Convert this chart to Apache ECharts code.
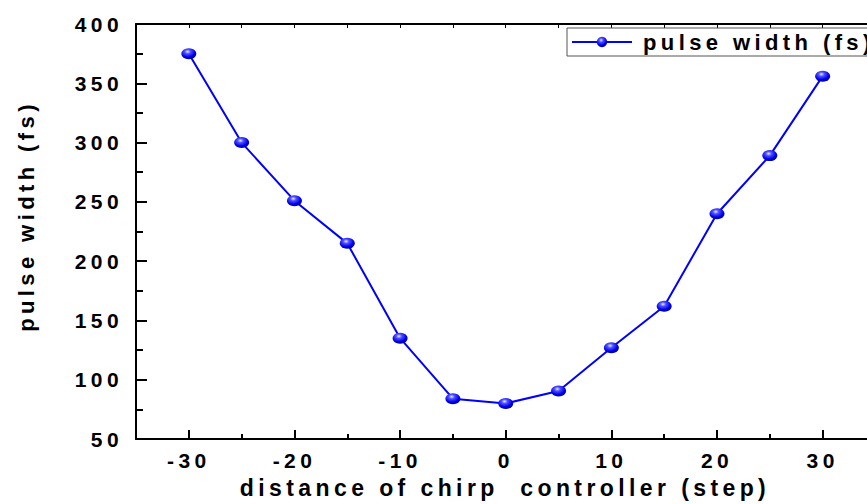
<!DOCTYPE html>
<html>
<head>
<meta charset="utf-8">
<script src="https://cdn.jsdelivr.net/npm/echarts@6/dist/echarts.min.js"></script>
<style>
  html, body { margin: 0; padding: 0; background: #fff; }
  #chart { width: 867px; height: 504px; }
  /* wide tracking on all chart text */
  #chart text { letter-spacing: 4.4px !important; }
</style>
</head>
<body>
<div id="chart"></div>
<script>
// chirp controller position (step) and measured pulse width (fs)
const steps = [-30, -25, -20, -15, -10, -5, 0, 5, 10, 15, 20, 25, 30];
const pulseWidths = [375, 300, 251, 215, 135, 84, 80, 90.5, 127, 162, 240, 289, 356];

const majorXTicks = [-30, -20, -10, 0, 10, 20, 30];
const minorXTicks = [-25, -15, -5, 5, 15, 25];

const seriesName = 'pulse width (fs)';
const xTitle = 'distance of chirp  controller (step)';
const yTitle = 'pulse width (fs)';

const FONT = '"Liberation Sans", Arial, sans-serif';
const points = steps.map((s, i) => [s, pulseWidths[i]]);

const ball = {
  type: 'radial', x: 0.42, y: 0.32, r: 0.65,
  colorStops: [
    { offset: 0, color: '#e8e8ff' },
    { offset: 0.3, color: '#5050ff' },
    { offset: 0.75, color: '#0000ee' },
    { offset: 1, color: '#0000a0' }
  ]
};

const chart = echarts.init(document.getElementById('chart'), null, { renderer: 'svg' });

// the frame runs from -35 and is cut by the right edge of the page just past 34
const baseX = {
  type: 'value', min: -35, max: 34.2, splitLine: { show: false },
  axisLine: { onZero: false, lineStyle: { color: '#000', width: 2 } }
};

chart.setOption({
  animation: false,
  backgroundColor: '#fff',
  grid: { left: 136, top: 24, right: 0, bottom: 65 },
  xAxis: [
    Object.assign({}, baseX, {
      position: 'bottom',
      name: xTitle, nameLocation: 'middle', nameGap: 37,
      nameTextStyle: { fontFamily: FONT, fontWeight: 'bold', fontSize: 23, color: '#000', padding: [0, 0, 0, 7] },
      axisTick: { inside: true, length: 9, customValues: majorXTicks, lineStyle: { color: '#000', width: 2 } },
      axisLabel: { customValues: majorXTicks, margin: 11, fontFamily: FONT, fontWeight: 'bold', fontSize: 21, color: '#000' }
    }),
    Object.assign({}, baseX, {
      position: 'bottom',
      axisLine: { show: false },
      axisTick: { inside: true, length: 5, customValues: minorXTicks, lineStyle: { color: '#000', width: 2 } },
      axisLabel: { show: false }
    }),
    Object.assign({}, baseX, {
      position: 'top',
      axisTick: { inside: true, length: 4, customValues: majorXTicks.concat(minorXTicks), lineStyle: { color: '#000', width: 1 } },
      axisLabel: { show: false }
    })
  ],
  yAxis: {
    type: 'value', min: 50, max: 400, interval: 50,
    splitLine: { show: false },
    axisLine: { onZero: false, lineStyle: { color: '#000', width: 2 } },
    axisTick: { inside: true, length: 11, lineStyle: { color: '#000', width: 2 } },
    minorTick: { show: true, splitNumber: 2, length: 7, lineStyle: { color: '#000', width: 2 } },
    axisLabel: { margin: 13, fontFamily: FONT, fontWeight: 'bold', fontSize: 21, color: '#000' }
  },
  legend: {
    left: 567, top: 28,
    data: [seriesName],
    itemWidth: 60, itemHeight: 13, itemGap: 0,
    padding: [3, 66, 3, 4],
    borderColor: '#555', borderWidth: 1, borderRadius: 0, backgroundColor: '#fff',
    textStyle: { fontFamily: FONT, fontWeight: 'bold', fontSize: 22, color: '#000', padding: [0, 0, 0, 6] }
  },
  graphic: [{
    type: 'text', x: 26, y: 216, rotation: Math.PI / 2,
    style: {
      text: yTitle, align: 'center', verticalAlign: 'middle',
      font: 'bold 22px "Liberation Sans", Arial, sans-serif', fill: '#000'
    }
  }],
  series: [{
    name: seriesName, type: 'line', data: points,
    symbol: 'circle', symbolSize: [15, 11],
    lineStyle: { color: '#0000ff', width: 2 },
    itemStyle: { color: ball },
    z: 3
  }]
});
</script>
</body>
</html>
